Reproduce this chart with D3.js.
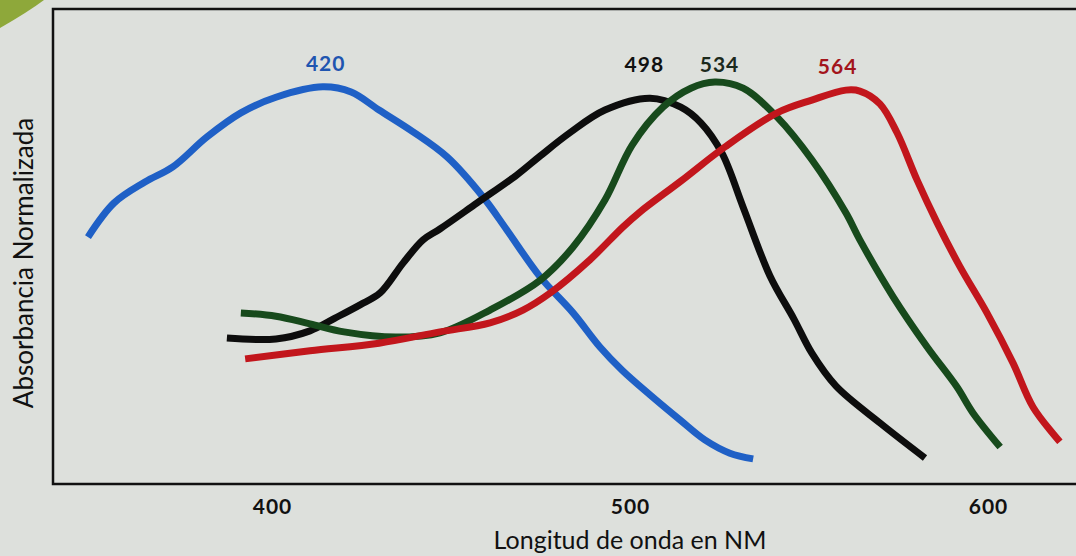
<!DOCTYPE html>
<html>
<head>
<meta charset="utf-8">
<script src="https://cdn.jsdelivr.net/npm/d3@7"></script>
<style>
  body { margin: 0; background: #dde0dc; }
  svg { display: block; }
</style>
</head>
<body>
<script>
// wavelength (nm) and normalized absorbance
var blueNm  = [348.6, 355.9, 364.5, 372.3, 381.8, 391.3, 401.1, 414.2, 422.1, 429.9, 439.4, 448.9, 458.9, 465.6, 474.9, 484.1, 491.6, 497.8, 505.6, 514.0, 520.9, 527.9, 534.4];
var blueVal = [0.521, 0.593, 0.637, 0.669, 0.732, 0.783, 0.816, 0.838, 0.827, 0.789, 0.743, 0.690, 0.606, 0.536, 0.437, 0.361, 0.289, 0.240, 0.188, 0.135, 0.093, 0.065, 0.053];

var blackNm  = [387.4, 401.1, 410.6, 417.6, 424.6, 430.2, 436.6, 442.2, 446.9, 457.3, 468.4, 474.9, 483.2, 493.0, 505.6, 514.2, 519.8, 525.7, 531.6, 539.1, 545.8, 550.8, 557.5, 569.8, 582.4];
var blackVal = [0.308, 0.306, 0.323, 0.350, 0.378, 0.403, 0.466, 0.515, 0.538, 0.593, 0.652, 0.692, 0.741, 0.789, 0.814, 0.795, 0.762, 0.698, 0.584, 0.439, 0.348, 0.276, 0.207, 0.129, 0.055];

var greenNm  = [391.3, 401.1, 410.6, 420.1, 434.6, 446.9, 460.9, 474.9, 484.1, 493.0, 500.6, 509.2, 517.0, 523.7, 531.6, 541.1, 550.8, 560.3, 564.2, 573.5, 583.0, 591.3, 595.8, 603.4];
var greenVal = [0.361, 0.354, 0.338, 0.321, 0.310, 0.319, 0.367, 0.430, 0.500, 0.599, 0.715, 0.795, 0.835, 0.848, 0.835, 0.774, 0.684, 0.572, 0.515, 0.395, 0.289, 0.205, 0.150, 0.078];

var redNm  = [392.5, 410.6, 429.9, 446.9, 460.9, 470.1, 477.7, 488.8, 498.0, 502.8, 514.2, 526.5, 541.1, 550.8, 560.3, 564.2, 569.8, 574.6, 580.2, 585.8, 592.2, 599.7, 607.0, 612.6, 620.1];
var redVal = [0.264, 0.281, 0.297, 0.321, 0.340, 0.367, 0.403, 0.473, 0.542, 0.574, 0.639, 0.711, 0.783, 0.810, 0.831, 0.829, 0.802, 0.741, 0.641, 0.551, 0.458, 0.361, 0.255, 0.162, 0.089];

var peakLabels = ["420", "498", "534", "564"];
var peakLabelNm = [415, 504, 525, 558];
var tickValues = [400, 500, 600];

var W = 1076, H = 556;
var svg = d3.select('body').append('svg')
    .attr('width', W)
    .attr('height', H);

// page background
svg.append('rect').attr('width', W).attr('height', H).attr('fill', '#dde0dc');

// bit of green picture in the corner of the page
svg.append('path')
    .attr('d', 'M0,0 L44,0 Q28,12 0,28 Z')
    .attr('fill', '#8ea83a');

var x = d3.scaleLinear().domain([400, 600]).range([272, 988]);
var y = d3.scaleLinear().domain([0, 1]).range([484, 10]);

// frame: top, left, bottom
svg.append('path')
    .attr('d', 'M1076,9 L53,9 L53,484 L1076,484')
    .attr('fill', 'none')
    .attr('stroke', '#111')
    .attr('stroke-width', 2.5);

var series = [
    {nm: blueNm,  val: blueVal,  color: '#1f60c6'},
    {nm: blackNm, val: blackVal, color: '#0d0d0d'},
    {nm: greenNm, val: greenVal, color: '#174a1c'},
    {nm: redNm,   val: redVal,   color: '#c2161c'}
];

var line = d3.line()
    .x(function(d){ return x(d[0]); })
    .y(function(d){ return y(d[1]); })
    .curve(d3.curveCatmullRom.alpha(0.5));

svg.selectAll('path.curve')
    .data(series)
    .enter()
    .append('path')
    .attr('class', 'curve')
    .attr('d', function(d){
        return line(d.nm.map(function(n, i){ return [n, d.val[i]]; }));
    })
    .attr('fill', 'none')
    .attr('stroke', function(d){ return d.color; })
    .attr('stroke-width', 7)
    .attr('stroke-linecap', 'butt');

// peak labels
var labelColors = ['#1f55b0', '#111', '#1c2a1c', '#a3141b'];
var labelY = [71, 72, 72, 74];
svg.selectAll('text.peak')
    .data(peakLabels)
    .enter()
    .append('text')
    .attr('class', 'peak')
    .attr('x', function(d, i){ return x(peakLabelNm[i]); })
    .attr('y', function(d, i){ return labelY[i]; })
    .attr('text-anchor', 'middle')
    .attr('font-family', 'Lato, "Open Sans", sans-serif')
    .attr('font-weight', 'bold')
    .attr('font-size', 21)
    .attr('letter-spacing', 1)
    .attr('fill', function(d, i){ return labelColors[i]; })
    .text(function(d){ return d; });

// x axis tick labels
var xAxis = d3.axisBottom(x).tickValues(tickValues).tickSize(0).tickPadding(0);
var gx = svg.append('g')
    .attr('transform', 'translate(0,499)')
    .call(xAxis);
gx.select('.domain').remove();
gx.selectAll('text')
    .attr('font-family', 'Lato, "Open Sans", sans-serif')
    .attr('font-weight', 'bold')
    .attr('font-size', 21)
    .attr('letter-spacing', 1)
    .attr('fill', '#111');

// axis titles
svg.append('text')
    .attr('x', 630)
    .attr('y', 549)
    .attr('text-anchor', 'middle')
    .attr('font-family', 'Lato, "Open Sans", sans-serif')
    .attr('font-size', 25)
    .attr('fill', '#111')
    .text('Longitud de onda en NM');

svg.append('text')
    .attr('transform', 'translate(33,263) rotate(-90)')
    .attr('text-anchor', 'middle')
    .attr('font-family', 'Lato, "Open Sans", sans-serif')
    .attr('font-size', 26)
    .attr('fill', '#111')
    .text('Absorbancia Normalizada');
</script>
</body>
</html>
